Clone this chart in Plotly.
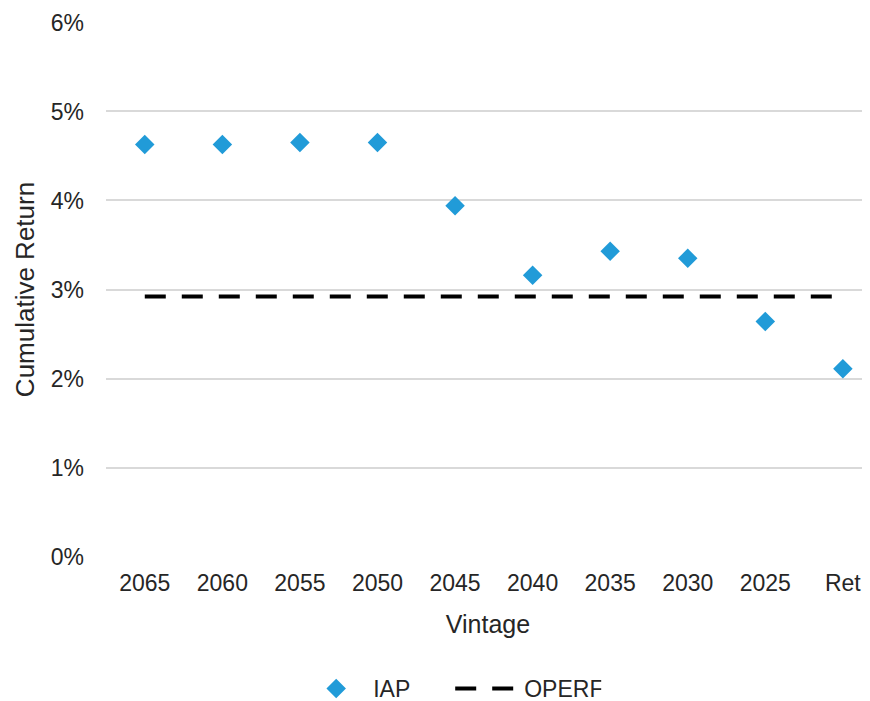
import plotly.graph_objects as go

vintages = ["2065", "2060", "2055", "2050", "2045", "2040", "2035", "2030", "2025", "Ret"]
iap = [0.0463, 0.0463, 0.0465, 0.0465, 0.0394, 0.0316, 0.0343, 0.0335, 0.0264, 0.0211]
operf = [0.0292] * 10

FONT = "Liberation Sans, Arial, sans-serif"

fig = go.Figure()
fig.add_trace(go.Scatter(
    x=vintages, y=iap, name="IAP", mode="markers",
    marker=dict(symbol="diamond", size=15, color="#219BD8", line=dict(width=0)),
))
fig.add_trace(go.Scatter(
    x=vintages, y=operf, name="OPERF", mode="lines",
    line=dict(color="black", width=4, dash="21px,16px"),
))

fig.update_layout(
    width=862, height=693,
    margin=dict(l=98, r=0, t=14, b=144),
    paper_bgcolor="white", plot_bgcolor="white",
    font=dict(family=FONT, size=23, color="#262626"),
    showlegend=True,
    legend=dict(orientation="h", xref="container", yref="container",
                x=0.513, y=0.018, xanchor="center", yanchor="middle",
                font=dict(size=23), itemwidth=64,
                entrywidth=72, entrywidthmode="pixels", traceorder="normal"),
    xaxis=dict(
        type="category", range=[-0.5, 9.35],
        showgrid=False, showline=False, zeroline=False, ticks="",
        tickfont=dict(size=23), ticklabelstandoff=10,
        title=dict(text="Vintage", font=dict(size=25), standoff=20),
    ),
    yaxis=dict(
        range=[-0.00005, 0.06005], dtick=0.01, tick0=0, tickformat=".0%",
        showgrid=True, gridcolor="#D9D9D9", gridwidth=1.5,
        zeroline=False, showline=False, ticks="",
        tickfont=dict(size=23), ticklabelstandoff=21,
        title=dict(text="Cumulative Return", font=dict(size=26), standoff=8),
    ),
)

fig.write_html("out.html")
